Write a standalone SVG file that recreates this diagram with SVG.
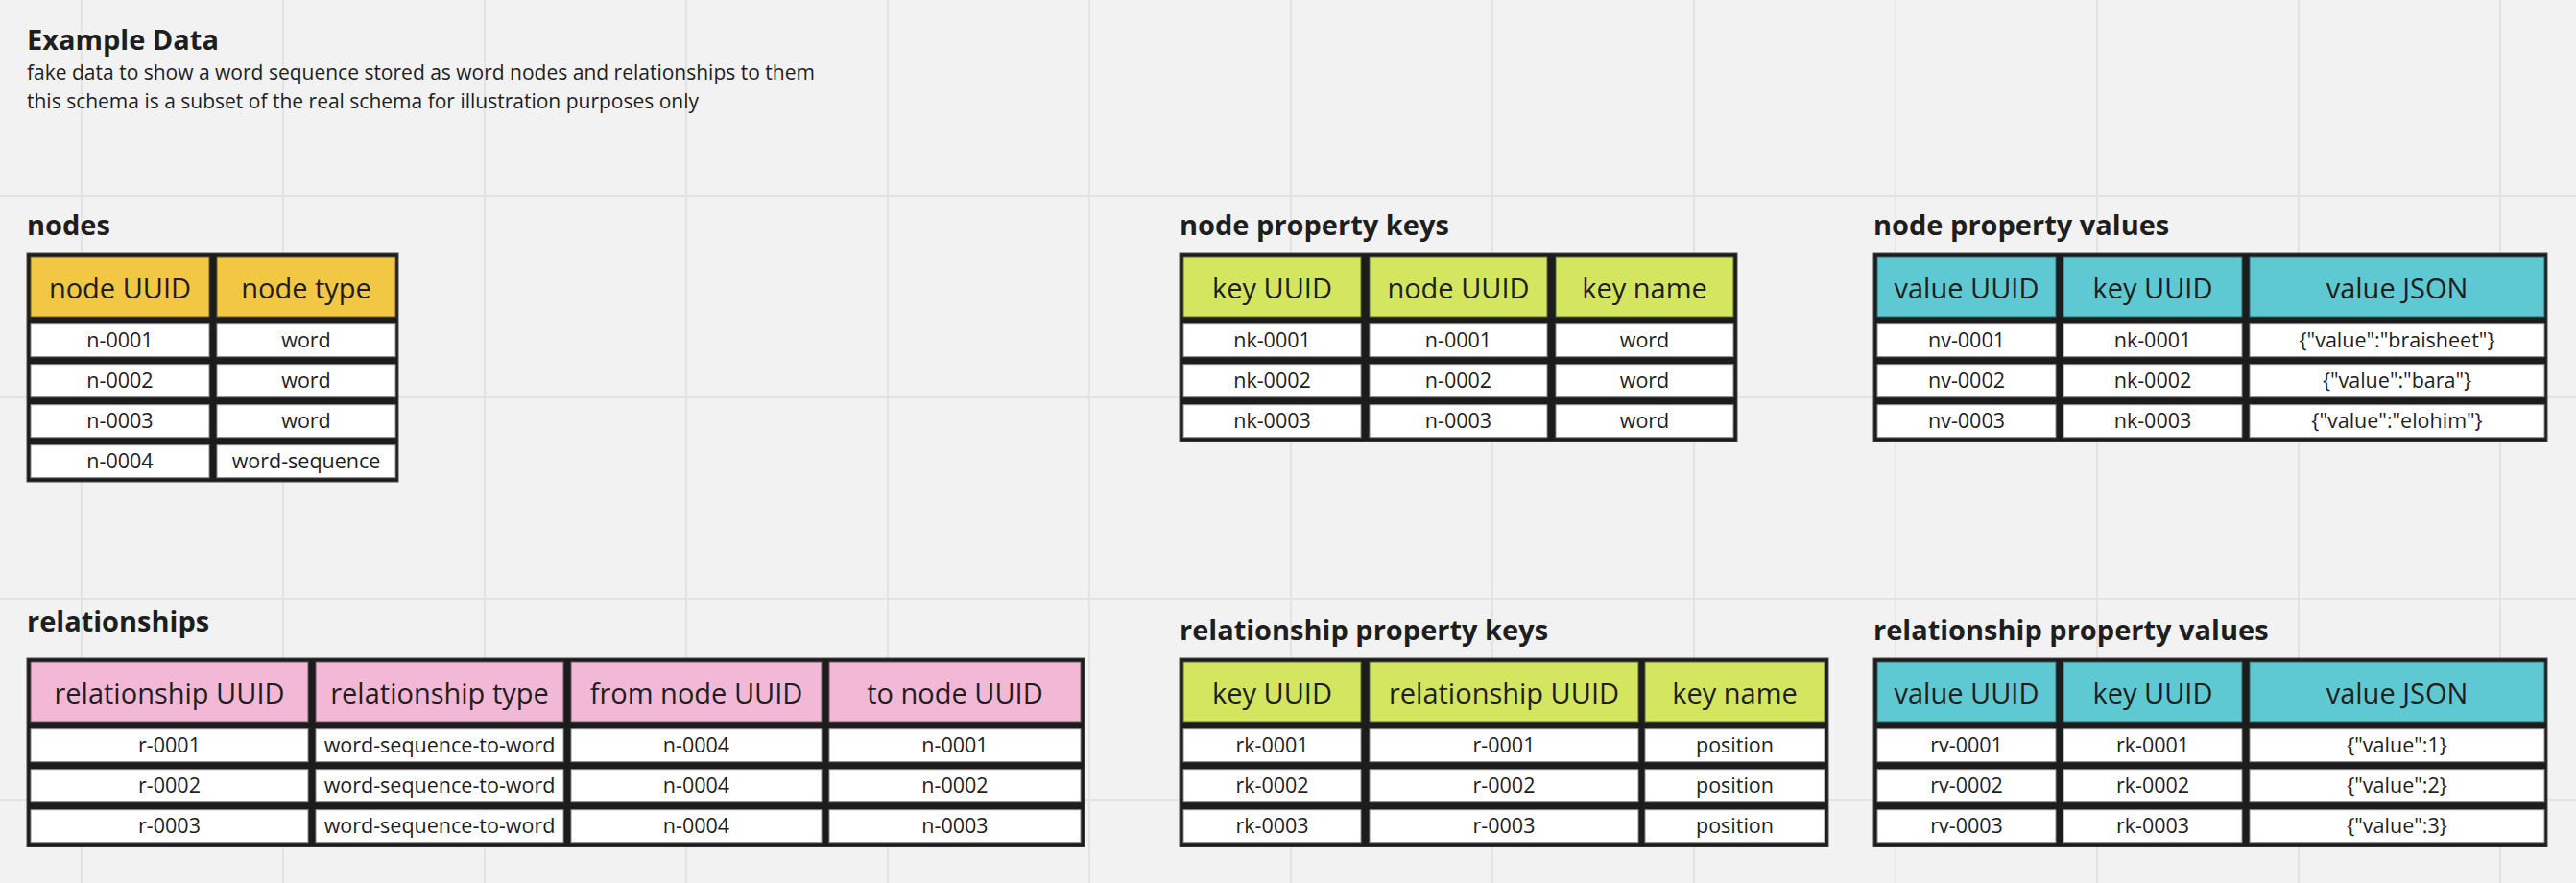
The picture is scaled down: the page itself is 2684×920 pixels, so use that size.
<svg xmlns="http://www.w3.org/2000/svg" width="2684" height="920" viewBox="0 0 2684 920">
<style>
text{font-family:"Open Sans","Noto Sans","Liberation Sans",sans-serif;fill:#1e1e1e}
.ttl{font-size:29px;font-weight:700}
.sub{font-size:21px}
.lbl{font-size:29px;font-weight:700}
.hd{font-size:29px;text-anchor:middle}
.tx{font-size:21.5px;text-anchor:middle}
.frame{fill:#1c1c1c;stroke:#4a4a4a;stroke-width:1}
.c{fill:#ffffff;stroke:#8a8a8a;stroke-width:1}
.hy{fill:#f1c744;stroke:#6b5d2a;stroke-width:1}
.hg{fill:#d4e660;stroke:#5f6a2c;stroke-width:1}
.hb{fill:#5ec9d1;stroke:#2f6468;stroke-width:1}
.hp{fill:#f2b8d6;stroke:#6e5462;stroke-width:1}
.grid line{stroke:#e3e3e3;stroke-width:2}
</style>
<rect x="0" y="0" width="2684" height="920" fill="#f2f2f2"/>
<g class="grid">
<line x1="85" y1="0" x2="85" y2="920"/><line x1="295" y1="0" x2="295" y2="920"/><line x1="505" y1="0" x2="505" y2="920"/><line x1="715" y1="0" x2="715" y2="920"/><line x1="925" y1="0" x2="925" y2="920"/><line x1="1135" y1="0" x2="1135" y2="920"/><line x1="1345" y1="0" x2="1345" y2="920"/><line x1="1555" y1="0" x2="1555" y2="920"/><line x1="1765" y1="0" x2="1765" y2="920"/><line x1="1975" y1="0" x2="1975" y2="920"/><line x1="2185" y1="0" x2="2185" y2="920"/><line x1="2395" y1="0" x2="2395" y2="920"/><line x1="2605" y1="0" x2="2605" y2="920"/>
<line x1="0" y1="204" x2="2684" y2="204"/><line x1="0" y1="414" x2="2684" y2="414"/><line x1="0" y1="624" x2="2684" y2="624"/><line x1="0" y1="834" x2="2684" y2="834"/>
</g>
<g id="title">
<text class="ttl" x="28" y="52">Example Data</text>
<text class="sub" x="28" y="83">fake data to show a word sequence stored as word nodes and relationships to them</text>
<text class="sub" x="28" y="113">this schema is a subset of the real schema for illustration purposes only</text>
</g>
<g id="nodes">
<text class="lbl" x="28" y="245">nodes</text>
<rect class="frame" x="28" y="264" width="387" height="238"/>
<rect class="hy" x="32" y="268" width="186" height="62"/><rect class="hy" x="226" y="268" width="186" height="62"/>
<text class="hd" x="125" y="311">node UUID</text><text class="hd" x="319" y="311">node type</text>
<rect class="c" x="32" y="337.7" width="186" height="34"/><rect class="c" x="226" y="337.7" width="186" height="34"/>
<rect class="c" x="32" y="379.7" width="186" height="34"/><rect class="c" x="226" y="379.7" width="186" height="34"/>
<rect class="c" x="32" y="421.7" width="186" height="34"/><rect class="c" x="226" y="421.7" width="186" height="34"/>
<rect class="c" x="32" y="463.7" width="186" height="34"/><rect class="c" x="226" y="463.7" width="186" height="34"/>
<text class="tx" x="125" y="362.3">n-0001</text><text class="tx" x="319" y="362.3">word</text>
<text class="tx" x="125" y="404.3">n-0002</text><text class="tx" x="319" y="404.3">word</text>
<text class="tx" x="125" y="446.3">n-0003</text><text class="tx" x="319" y="446.3">word</text>
<text class="tx" x="125" y="488.3">n-0004</text><text class="tx" x="319" y="488.3">word-sequence</text>
</g>
<g id="node-property-keys">
<text class="lbl" x="1229" y="245">node property keys</text>
<rect class="frame" x="1229" y="264" width="581" height="196"/>
<rect class="hg" x="1233" y="268" width="185" height="62"/><rect class="hg" x="1427" y="268" width="185" height="62"/><rect class="hg" x="1621" y="268" width="185" height="62"/>
<text class="hd" x="1325.5" y="311">key UUID</text><text class="hd" x="1519.5" y="311">node UUID</text><text class="hd" x="1713.5" y="311">key name</text>
<rect class="c" x="1233" y="337.7" width="185" height="34"/><rect class="c" x="1427" y="337.7" width="185" height="34"/><rect class="c" x="1621" y="337.7" width="185" height="34"/>
<rect class="c" x="1233" y="379.7" width="185" height="34"/><rect class="c" x="1427" y="379.7" width="185" height="34"/><rect class="c" x="1621" y="379.7" width="185" height="34"/>
<rect class="c" x="1233" y="421.7" width="185" height="34"/><rect class="c" x="1427" y="421.7" width="185" height="34"/><rect class="c" x="1621" y="421.7" width="185" height="34"/>
<text class="tx" x="1325.5" y="362.3">nk-0001</text><text class="tx" x="1519.5" y="362.3">n-0001</text><text class="tx" x="1713.5" y="362.3">word</text>
<text class="tx" x="1325.5" y="404.3">nk-0002</text><text class="tx" x="1519.5" y="404.3">n-0002</text><text class="tx" x="1713.5" y="404.3">word</text>
<text class="tx" x="1325.5" y="446.3">nk-0003</text><text class="tx" x="1519.5" y="446.3">n-0003</text><text class="tx" x="1713.5" y="446.3">word</text>
</g>
<g id="node-property-values">
<text class="lbl" x="1952" y="245">node property values</text>
<rect class="frame" x="1952" y="264" width="702" height="196"/>
<rect class="hb" x="1956" y="268" width="186" height="62"/><rect class="hb" x="2150" y="268" width="186" height="62"/><rect class="hb" x="2344" y="268" width="307" height="62"/>
<text class="hd" x="2049" y="311">value UUID</text><text class="hd" x="2243" y="311">key UUID</text><text class="hd" x="2497.5" y="311">value JSON</text>
<rect class="c" x="1956" y="337.7" width="186" height="34"/><rect class="c" x="2150" y="337.7" width="186" height="34"/><rect class="c" x="2344" y="337.7" width="307" height="34"/>
<rect class="c" x="1956" y="379.7" width="186" height="34"/><rect class="c" x="2150" y="379.7" width="186" height="34"/><rect class="c" x="2344" y="379.7" width="307" height="34"/>
<rect class="c" x="1956" y="421.7" width="186" height="34"/><rect class="c" x="2150" y="421.7" width="186" height="34"/><rect class="c" x="2344" y="421.7" width="307" height="34"/>
<text class="tx" x="2049" y="362.3">nv-0001</text><text class="tx" x="2243" y="362.3">nk-0001</text><text class="tx" x="2497.5" y="362.3">{"value":"braisheet"}</text>
<text class="tx" x="2049" y="404.3">nv-0002</text><text class="tx" x="2243" y="404.3">nk-0002</text><text class="tx" x="2497.5" y="404.3">{"value":"bara"}</text>
<text class="tx" x="2049" y="446.3">nv-0003</text><text class="tx" x="2243" y="446.3">nk-0003</text><text class="tx" x="2497.5" y="446.3">{"value":"elohim"}</text>
</g>
<g id="relationships">
<text class="lbl" x="28" y="658">relationships</text>
<rect class="frame" x="28" y="686" width="1102" height="196"/>
<rect class="hp" x="32" y="690" width="289" height="62"/><rect class="hp" x="329" y="690" width="258" height="62"/><rect class="hp" x="595" y="690" width="261" height="62"/><rect class="hp" x="864" y="690" width="262" height="62"/>
<text class="hd" x="176.5" y="733">relationship UUID</text><text class="hd" x="458" y="733">relationship type</text><text class="hd" x="725.5" y="733">from node UUID</text><text class="hd" x="995" y="733">to node UUID</text>
<rect class="c" x="32" y="759.7" width="289" height="34"/><rect class="c" x="329" y="759.7" width="258" height="34"/><rect class="c" x="595" y="759.7" width="261" height="34"/><rect class="c" x="864" y="759.7" width="262" height="34"/>
<rect class="c" x="32" y="801.7" width="289" height="34"/><rect class="c" x="329" y="801.7" width="258" height="34"/><rect class="c" x="595" y="801.7" width="261" height="34"/><rect class="c" x="864" y="801.7" width="262" height="34"/>
<rect class="c" x="32" y="843.7" width="289" height="34"/><rect class="c" x="329" y="843.7" width="258" height="34"/><rect class="c" x="595" y="843.7" width="261" height="34"/><rect class="c" x="864" y="843.7" width="262" height="34"/>
<text class="tx" x="176.5" y="784.3">r-0001</text><text class="tx" x="458" y="784.3">word-sequence-to-word</text><text class="tx" x="725.5" y="784.3">n-0004</text><text class="tx" x="995" y="784.3">n-0001</text>
<text class="tx" x="176.5" y="826.3">r-0002</text><text class="tx" x="458" y="826.3">word-sequence-to-word</text><text class="tx" x="725.5" y="826.3">n-0004</text><text class="tx" x="995" y="826.3">n-0002</text>
<text class="tx" x="176.5" y="868.3">r-0003</text><text class="tx" x="458" y="868.3">word-sequence-to-word</text><text class="tx" x="725.5" y="868.3">n-0004</text><text class="tx" x="995" y="868.3">n-0003</text>
</g>
<g id="relationship-property-keys">
<text class="lbl" x="1229" y="667">relationship property keys</text>
<rect class="frame" x="1229" y="686" width="676" height="196"/>
<rect class="hg" x="1233" y="690" width="185" height="62"/><rect class="hg" x="1427" y="690" width="280" height="62"/><rect class="hg" x="1714" y="690" width="187" height="62"/>
<text class="hd" x="1325.5" y="733">key UUID</text><text class="hd" x="1567" y="733">relationship UUID</text><text class="hd" x="1807.5" y="733">key name</text>
<rect class="c" x="1233" y="759.7" width="185" height="34"/><rect class="c" x="1427" y="759.7" width="280" height="34"/><rect class="c" x="1714" y="759.7" width="187" height="34"/>
<rect class="c" x="1233" y="801.7" width="185" height="34"/><rect class="c" x="1427" y="801.7" width="280" height="34"/><rect class="c" x="1714" y="801.7" width="187" height="34"/>
<rect class="c" x="1233" y="843.7" width="185" height="34"/><rect class="c" x="1427" y="843.7" width="280" height="34"/><rect class="c" x="1714" y="843.7" width="187" height="34"/>
<text class="tx" x="1325.5" y="784.3">rk-0001</text><text class="tx" x="1567" y="784.3">r-0001</text><text class="tx" x="1807.5" y="784.3">position</text>
<text class="tx" x="1325.5" y="826.3">rk-0002</text><text class="tx" x="1567" y="826.3">r-0002</text><text class="tx" x="1807.5" y="826.3">position</text>
<text class="tx" x="1325.5" y="868.3">rk-0003</text><text class="tx" x="1567" y="868.3">r-0003</text><text class="tx" x="1807.5" y="868.3">position</text>
</g>
<g id="relationship-property-values">
<text class="lbl" x="1952" y="667">relationship property values</text>
<rect class="frame" x="1952" y="686" width="702" height="196"/>
<rect class="hb" x="1956" y="690" width="186" height="62"/><rect class="hb" x="2150" y="690" width="186" height="62"/><rect class="hb" x="2344" y="690" width="307" height="62"/>
<text class="hd" x="2049" y="733">value UUID</text><text class="hd" x="2243" y="733">key UUID</text><text class="hd" x="2497.5" y="733">value JSON</text>
<rect class="c" x="1956" y="759.7" width="186" height="34"/><rect class="c" x="2150" y="759.7" width="186" height="34"/><rect class="c" x="2344" y="759.7" width="307" height="34"/>
<rect class="c" x="1956" y="801.7" width="186" height="34"/><rect class="c" x="2150" y="801.7" width="186" height="34"/><rect class="c" x="2344" y="801.7" width="307" height="34"/>
<rect class="c" x="1956" y="843.7" width="186" height="34"/><rect class="c" x="2150" y="843.7" width="186" height="34"/><rect class="c" x="2344" y="843.7" width="307" height="34"/>
<text class="tx" x="2049" y="784.3">rv-0001</text><text class="tx" x="2243" y="784.3">rk-0001</text><text class="tx" x="2497.5" y="784.3">{"value":1}</text>
<text class="tx" x="2049" y="826.3">rv-0002</text><text class="tx" x="2243" y="826.3">rk-0002</text><text class="tx" x="2497.5" y="826.3">{"value":2}</text>
<text class="tx" x="2049" y="868.3">rv-0003</text><text class="tx" x="2243" y="868.3">rk-0003</text><text class="tx" x="2497.5" y="868.3">{"value":3}</text>
</g>
</svg>
